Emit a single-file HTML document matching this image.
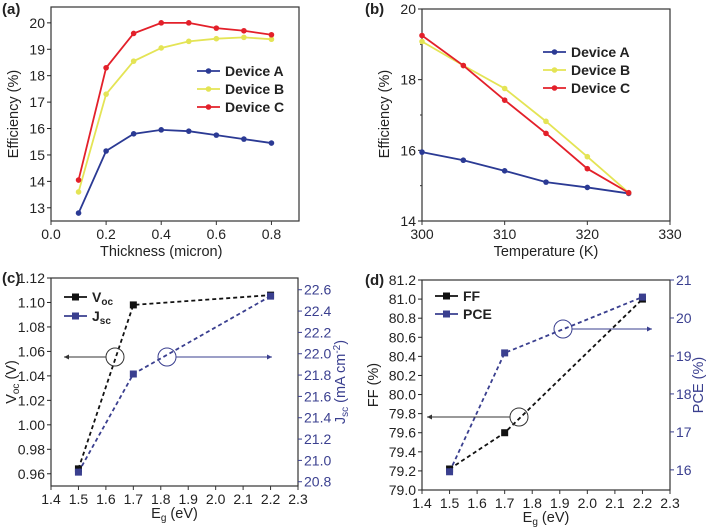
<!DOCTYPE html>
<html><head><meta charset="utf-8"><style>
body{margin:0;background:#fff}
svg{display:block;font-family:"Liberation Sans",Arial,sans-serif}
</style></head><body>
<svg id="fig" width="710" height="530" viewBox="0 0 710 530"></svg>
<script>
// Panel a data
const aThickness=[0.1,0.2,0.3,0.4,0.5,0.6,0.7,0.8];
const aDevA=[12.8,15.15,15.8,15.95,15.9,15.75,15.6,15.45];
const aDevB=[13.6,17.3,18.55,19.05,19.3,19.4,19.45,19.38];
const aDevC=[14.05,18.3,19.6,20.0,20.0,19.8,19.7,19.55];
const aXTicks=[0.0,0.2,0.4,0.6,0.8];
const aYTicks=[13,14,15,16,17,18,19,20];
// Panel b data
const bTemp=[300,305,310,315,320,325];
const bDevA=[15.95,15.72,15.42,15.1,14.95,14.78];
const bDevB=[19.08,18.4,17.75,16.82,15.82,14.8];
const bDevC=[19.25,18.4,17.42,16.48,15.48,14.8];
const bXTicks=[300,310,320,330];
const bYTicks=[14,16,18,20];
// Panel c data
const cEg=[1.5,1.7,2.2];
const cVoc=[0.964,1.098,1.106];
const cJsc=[20.89,21.81,22.54];
const cXTicks=[1.4,1.5,1.6,1.7,1.8,1.9,2.0,2.1,2.2,2.3];
const cYTicks=[0.96,0.98,1.00,1.02,1.04,1.06,1.08,1.10,1.12];
const cY2Ticks=[20.8,21.0,21.2,21.4,21.6,21.8,22.0,22.2,22.4,22.6];
// Panel d data
const dEg=[1.5,1.7,2.2];
const dFF=[79.22,79.6,81.0];
const dPCE=[15.95,19.08,20.55];
const dXTicks=[1.4,1.5,1.6,1.7,1.8,1.9,2.0,2.1,2.2,2.3];
const dYTicks=[79.0,79.2,79.4,79.6,79.8,80.0,80.2,80.4,80.6,80.8,81.0,81.2];
const dY2Ticks=[16,17,18,19,20,21];

const NS="http://www.w3.org/2000/svg";
const svg=document.getElementById('fig');
const BLUE="#2b3a94",YEL="#e4e455",RED="#e3202a",AX2="#3a3f8f";
const FS=14,TFS=14.5;
function mk(tag,attrs,parent){const e=document.createElementNS(NS,tag);for(const k in attrs)e.setAttribute(k,attrs[k]);(parent||svg).appendChild(e);return e;}
function txt(x,y,s,opt,parent){const t=mk('text',Object.assign({x:x,y:y,'font-size':FS,fill:'#222','text-anchor':'middle'},opt||{}),parent);t.innerHTML=s;return t;}
function scale(d0,d1,r0,r1){return v=>r0+(v-d0)/(d1-d0)*(r1-r0);}
function panel(name,L,R,T,B){
  const g=mk('g',{});
  
  
  const r=mk('rect',{x:L,y:T,width:R-L,height:B-T,fill:'none',stroke:'#333','stroke-width':1.2},g);
  
  
  return g;
}
function xAxis(g,ticks,sx,B,dec,title,titleY){
  ticks.forEach(v=>{mk('line',{x1:sx(v),x2:sx(v),y1:B,y2:B+4,stroke:'#333'},g);
    const t=txt(sx(v),B+18,v.toFixed(dec),{},g);
    
    });
  const t=txt((sx(ticks[0])+sx(ticks[ticks.length-1]))/2,titleY,title,{'font-size':TFS},g);
  
  
  return t;
}
function yAxis(g,ticks,sy,L,dec,color,right){
  ticks.forEach(v=>{mk('line',{x1:L,x2:right?L+4:L-4,y1:sy(v),y2:sy(v),stroke:color},g);
    const t=txt(right?L+6:L-6,sy(v)+5,v.toFixed(dec),{'text-anchor':right?'start':'end',fill:color},g);
    
    });
}
function yTitle(g,x,y,s,color,name){
  const t=txt(x,y,s,{transform:`rotate(-90 ${x} ${y})`,'font-size':TFS,fill:color||'#222'},g);
  
  
}
function series(g,xs,ys,sx,sy,color,name,marker,dash){
  const pts=xs.map((x,i)=>sx(x)+','+sy(ys[i])).join(' ');
  const l=mk('polyline',{points:pts,fill:'none',stroke:color,'stroke-width':1.8,'stroke-dasharray':dash?'4,3':'none'},g);
  
  
  xs.forEach((x,i)=>{let m;
    if(marker==='sq'){m=mk('rect',{x:sx(x)-3.5,y:sy(ys[i])-3.5,width:7,height:7,fill:color},g);}
    else{m=mk('circle',{cx:sx(x),cy:sy(ys[i]),r:2.8,fill:color},g);}
    
    });
}
function legend(g,x,y,color,label,marker){
  const lg=mk('g',{},g);
  
  
  mk('line',{x1:x,x2:x+23,y1:y,y2:y,stroke:color,'stroke-width':1.8},lg);
  if(marker==='sq')mk('rect',{x:x+8,y:y-3.5,width:7,height:7,fill:color},lg);
  else mk('circle',{cx:x+11.5,cy:y,r:2.8,fill:color},lg);
  txt(x+28,y+5,label,{'text-anchor':'start','font-weight':'bold','font-size':14},lg);
}
function label(x,y,s){const t=txt(x,y,s,{'font-weight':'bold','font-size':15,'text-anchor':'start'});
  }
function circleArrow(g,cx,cy,x2,color){
  const c=mk('circle',{cx:cx,cy:cy,r:9,fill:'none',stroke:color,'stroke-width':1},g);
  
  
  const x1=x2<cx?cx-9:cx+9;
  mk('line',{x1:x1,x2:x2,y1:cy,y2:cy,stroke:color,'stroke-width':1},g);
  const d=x2<cx?5:-5;
  mk('path',{d:`M${x2},${cy} L${x2+d},${cy-2.5} L${x2+d},${cy+2.5}Z`,fill:color},g);
}

// ---- Panel a
(function(){
  const L=51,R=299,T=7,B=221;
  const g=panel('panel-a-thickness',L,R,T,B);
  const sx=scale(0,0.9,L,R), sy=scale(12.5,20.6,B,T);
  xAxis(g,aXTicks,sx,B,1,'Thickness (micron)',256);
  yAxis(g,aYTicks,sy,L,0,'#222',false);
  yTitle(g,18,114,'Efficiency (%)','#222','y-axis-title');
  series(g,aThickness,aDevA,sx,sy,BLUE,'device-a');
  series(g,aThickness,aDevB,sx,sy,YEL,'device-b');
  series(g,aThickness,aDevC,sx,sy,RED,'device-c');
  legend(g,197,71,BLUE,'Device A');legend(g,197,89,YEL,'Device B');legend(g,197,107,RED,'Device C');
  label(2,14,'(a)');
})();
// ---- Panel b
(function(){
  const L=422,R=670,T=9,B=221;
  const g=panel('panel-b-temperature',L,R,T,B);
  const sx=scale(300,330,L,R), sy=scale(14,20,B,T);
  xAxis(g,bXTicks,sx,B,0,'Temperature (K)',256);
  yAxis(g,bYTicks,sy,L,0,'#222',false);
  [15,17,19].forEach(v=>mk('line',{x1:L,x2:L-2,y1:sy(v),y2:sy(v),stroke:'#333'},g));
  yTitle(g,389,114,'Efficiency (%)','#222','y-axis-title');
  series(g,bTemp,bDevA,sx,sy,BLUE,'device-a');
  series(g,bTemp,bDevB,sx,sy,YEL,'device-b');
  series(g,bTemp,bDevC,sx,sy,RED,'device-c');
  legend(g,543,52,BLUE,'Device A');legend(g,543,70,YEL,'Device B');legend(g,543,88,RED,'Device C');
  label(365,14,'(b)');
})();
// ---- Panel c
(function(){
  const L=51,R=298,T=278,B=486;
  const g=panel('panel-c-voc-jsc',L,R,T,B);
  const sx=scale(1.4,2.3,L,R), sy=scale(0.95,1.12,B,T), sy2=scale(20.76,22.71,B,T);
  xAxis(g,cXTicks,sx,B,1,'E<tspan font-size="10" dy="3">g</tspan><tspan dy="-3"> (eV)</tspan>',518);
  yAxis(g,cYTicks,sy,L,2,'#222',false);
  yAxis(g,cY2Ticks,sy2,R,1,AX2,true);
  yTitle(g,16,382,'V<tspan font-size="10" dy="3">oc</tspan><tspan dy="-3"> (V)</tspan>','#222','y-axis-title');
  yTitle(g,345,382,'J<tspan font-size="10" dy="3">sc</tspan><tspan dy="-3"> (mA cm</tspan><tspan font-size="10" dy="-5">-2</tspan><tspan dy="5">)</tspan>',AX2,'y2-axis-title');
  series(g,cEg,cVoc,sx,sy,'#111','voc','sq',true);
  series(g,cEg,cJsc,sx,sy2,AX2,'jsc','sq',true);
  circleArrow(g,115,357,64,'#333');circleArrow(g,167,357,272,AX2);
  legend(g,64,297,'#111','V<tspan font-size="10" dy="3">oc</tspan>','sq');
  legend(g,64,316,AX2,'J<tspan font-size="10" dy="3">sc</tspan>','sq');
  label(2,283,'(c)');
})();
// ---- Panel d
(function(){
  const L=422,R=670,T=280,B=490;
  const g=panel('panel-d-ff-pce',L,R,T,B);
  const sx=scale(1.4,2.3,L,R), sy=scale(79.0,81.2,B,T), sy2=scale(15.47,21,B,T);
  xAxis(g,dXTicks,sx,B,1,'E<tspan font-size="10" dy="3">g</tspan><tspan dy="-3"> (eV)</tspan>',522);
  yAxis(g,dYTicks,sy,L,1,'#222',false);
  yAxis(g,dY2Ticks,sy2,R,0,AX2,true);
  yTitle(g,378,385,'FF (%)','#222','y-axis-title');
  yTitle(g,703,385,'PCE (%)',AX2,'y2-axis-title');
  series(g,dEg,dFF,sx,sy,'#111','ff','sq',true);
  series(g,dEg,dPCE,sx,sy2,AX2,'pce','sq',true);
  circleArrow(g,563,329,652,AX2);circleArrow(g,519,417,427,'#333');
  legend(g,435,296,'#111','FF','sq');legend(g,435,314,AX2,'PCE','sq');
  label(365,285,'(d)');
})();
</script>
</body></html>
